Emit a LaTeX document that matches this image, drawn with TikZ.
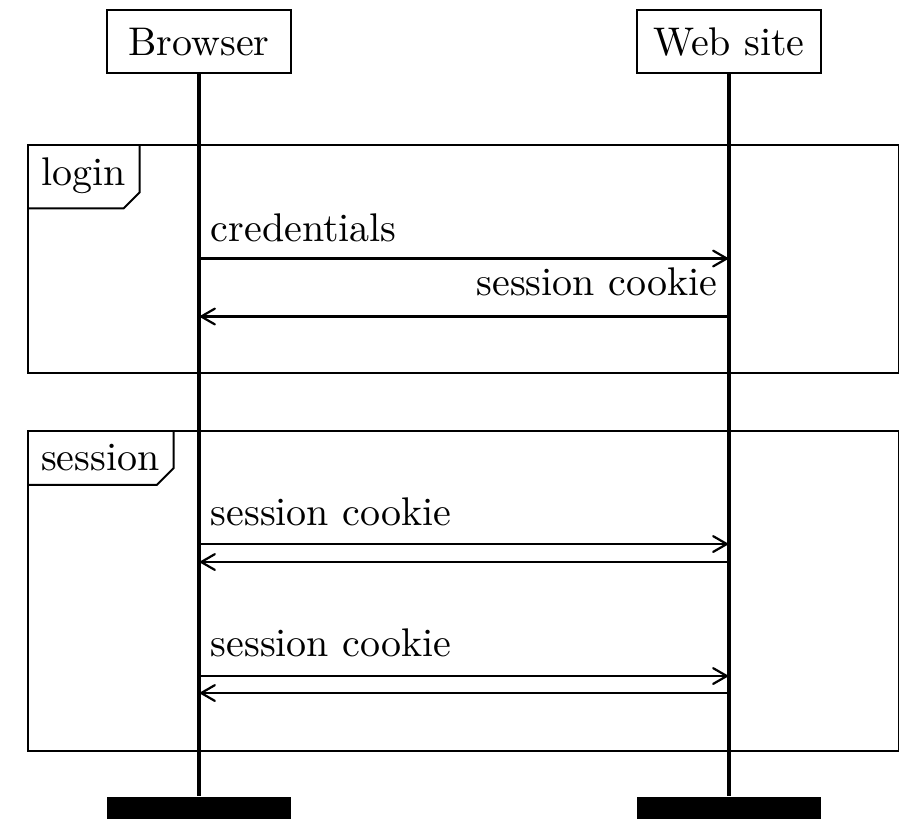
\documentclass[tikz,border=0pt]{standalone}
\usetikzlibrary{arrows}
\begin{document}
% 1 unit = 0.25pt, y grows downwards
\begin{tikzpicture}[x=0.25pt,y=-0.25pt, >=angle 60,
  inst/.style={draw, line width=0.5pt, minimum width=46pt, minimum height=15.8pt, inner sep=0pt},
  instend/.style={fill=black, minimum width=46pt, minimum height=12pt, inner sep=0pt, anchor=north},
  life/.style={line width=0.8pt},
  msg/.style={line width=0.55pt, ->},
  frm/.style={draw, line width=0.5pt, inner sep=0pt, anchor=north west},
  tag/.style={inner sep=3.33pt, anchor=north west},
  tagedge/.style={line width=0.5pt},
  lbl/.style={inner sep=0pt}]
\useasboundingbox (0,0) rectangle (899,818);

% instances
\node[inst] (br) at (199,41.7) {Browser};
\node[inst] (ws) at (729,41.7) {Web site};
\node[instend] (brend) at (199,796) {};
\node[instend] (wsend) at (729,796) {};

% lifelines
\draw[life] (br.south) -- (brend.north);
\draw[life] (ws.south) -- (wsend.north);

% login frame
\node[frm, minimum width=217.75pt, minimum height=57pt] (loginfr) at (27,144) {};
\node[tag] (logintag) at (loginfr.north west) {login};
\draw[tagedge] (logintag.north east) -- ([yshift=4pt]logintag.south east)
  -- ([xshift=-4pt]logintag.south east) -- (logintag.south west);

\draw[msg] (br |- 0,258.5) -- (ws |- 0,258.5);
\node[lbl, anchor=base west] (m1) at (210,241) {credentials};
\draw[msg] (ws |- 0,316.5) -- (br |- 0,316.5);
\node[lbl, anchor=base east] (m2) at (718,295) {session cookie};

% session frame
\node[frm, minimum width=217.75pt, minimum height=80pt] (sessfr) at (27,430) {};
\node[tag] (sesstag) at (sessfr.north west) {session};
\draw[tagedge] (sesstag.north east) -- ([yshift=4.2pt]sesstag.south east)
  -- ([xshift=-4.2pt]sesstag.south east) -- (sesstag.south west);

\draw[msg] (br |- 0,544) -- (ws |- 0,544);
\node[lbl, anchor=base west] (m3) at (210,525) {session cookie};
\draw[msg] (ws |- 0,562) -- (br |- 0,562);

\draw[msg] (br |- 0,676) -- (ws |- 0,676);
\node[lbl, anchor=base west] (m4) at (210,656.5) {session cookie};
\draw[msg] (ws |- 0,693) -- (br |- 0,693);
\end{tikzpicture}
\end{document}
